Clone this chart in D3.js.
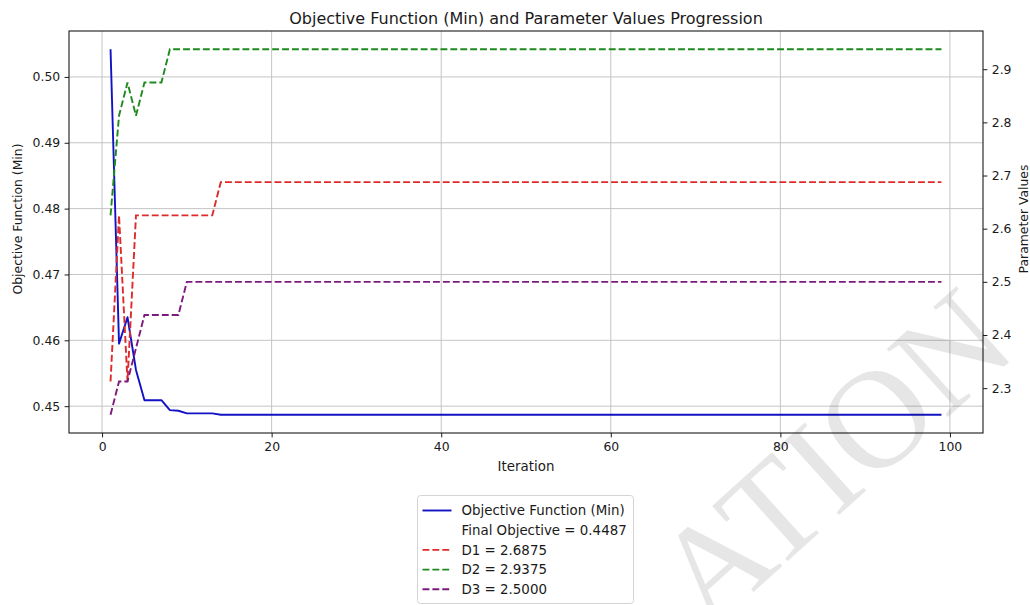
<!DOCTYPE html>
<html>
<head>
<meta charset="utf-8">
<script src="https://cdn.jsdelivr.net/npm/d3@7"></script>
<style>
  body { margin: 0; background: #fff; }
  text { font-family: "DejaVu Sans", sans-serif; fill: #1a1a1a; }
</style>
</head>
<body>
<svg id="chart" width="1030" height="605"></svg>
<script>
// Iteration index (x axis)
const iterations = d3.range(1, 100);

// Objective function value at each iteration (left axis)
const objective = [
  0.5042, 0.4595, 0.4635, 0.4555, 0.4509, 0.4509, 0.4509, 0.4494, 0.4493, 0.4489,
  0.4489, 0.4489, 0.4489, 0.4487, 0.4487, 0.4487, 0.4487, 0.4487, 0.4487, 0.4487,
  0.4487, 0.4487, 0.4487, 0.4487, 0.4487, 0.4487, 0.4487, 0.4487, 0.4487, 0.4487,
  0.4487, 0.4487, 0.4487, 0.4487, 0.4487, 0.4487, 0.4487, 0.4487, 0.4487, 0.4487,
  0.4487, 0.4487, 0.4487, 0.4487, 0.4487, 0.4487, 0.4487, 0.4487, 0.4487, 0.4487,
  0.4487, 0.4487, 0.4487, 0.4487, 0.4487, 0.4487, 0.4487, 0.4487, 0.4487, 0.4487,
  0.4487, 0.4487, 0.4487, 0.4487, 0.4487, 0.4487, 0.4487, 0.4487, 0.4487, 0.4487,
  0.4487, 0.4487, 0.4487, 0.4487, 0.4487, 0.4487, 0.4487, 0.4487, 0.4487, 0.4487,
  0.4487, 0.4487, 0.4487, 0.4487, 0.4487, 0.4487, 0.4487, 0.4487, 0.4487, 0.4487,
  0.4487, 0.4487, 0.4487, 0.4487, 0.4487, 0.4487, 0.4487, 0.4487, 0.4487
];

// Parameter values at each iteration (right axis)
const paramD1 = [
  2.3125, 2.625, 2.3125, 2.625, 2.625, 2.625, 2.625, 2.625, 2.625, 2.625,
  2.625, 2.625, 2.625, 2.6875, 2.6875, 2.6875, 2.6875, 2.6875, 2.6875, 2.6875,
  2.6875, 2.6875, 2.6875, 2.6875, 2.6875, 2.6875, 2.6875, 2.6875, 2.6875, 2.6875,
  2.6875, 2.6875, 2.6875, 2.6875, 2.6875, 2.6875, 2.6875, 2.6875, 2.6875, 2.6875,
  2.6875, 2.6875, 2.6875, 2.6875, 2.6875, 2.6875, 2.6875, 2.6875, 2.6875, 2.6875,
  2.6875, 2.6875, 2.6875, 2.6875, 2.6875, 2.6875, 2.6875, 2.6875, 2.6875, 2.6875,
  2.6875, 2.6875, 2.6875, 2.6875, 2.6875, 2.6875, 2.6875, 2.6875, 2.6875, 2.6875,
  2.6875, 2.6875, 2.6875, 2.6875, 2.6875, 2.6875, 2.6875, 2.6875, 2.6875, 2.6875,
  2.6875, 2.6875, 2.6875, 2.6875, 2.6875, 2.6875, 2.6875, 2.6875, 2.6875, 2.6875,
  2.6875, 2.6875, 2.6875, 2.6875, 2.6875, 2.6875, 2.6875, 2.6875, 2.6875
];
const paramD2 = [
  2.625, 2.8125, 2.875, 2.8125, 2.875, 2.875, 2.875, 2.9375, 2.9375, 2.9375,
  2.9375, 2.9375, 2.9375, 2.9375, 2.9375, 2.9375, 2.9375, 2.9375, 2.9375, 2.9375,
  2.9375, 2.9375, 2.9375, 2.9375, 2.9375, 2.9375, 2.9375, 2.9375, 2.9375, 2.9375,
  2.9375, 2.9375, 2.9375, 2.9375, 2.9375, 2.9375, 2.9375, 2.9375, 2.9375, 2.9375,
  2.9375, 2.9375, 2.9375, 2.9375, 2.9375, 2.9375, 2.9375, 2.9375, 2.9375, 2.9375,
  2.9375, 2.9375, 2.9375, 2.9375, 2.9375, 2.9375, 2.9375, 2.9375, 2.9375, 2.9375,
  2.9375, 2.9375, 2.9375, 2.9375, 2.9375, 2.9375, 2.9375, 2.9375, 2.9375, 2.9375,
  2.9375, 2.9375, 2.9375, 2.9375, 2.9375, 2.9375, 2.9375, 2.9375, 2.9375, 2.9375,
  2.9375, 2.9375, 2.9375, 2.9375, 2.9375, 2.9375, 2.9375, 2.9375, 2.9375, 2.9375,
  2.9375, 2.9375, 2.9375, 2.9375, 2.9375, 2.9375, 2.9375, 2.9375, 2.9375
];
const paramD3 = [
  2.25, 2.3125, 2.3125, 2.375, 2.4375, 2.4375, 2.4375, 2.4375, 2.4375, 2.5,
  2.5, 2.5, 2.5, 2.5, 2.5, 2.5, 2.5, 2.5, 2.5, 2.5,
  2.5, 2.5, 2.5, 2.5, 2.5, 2.5, 2.5, 2.5, 2.5, 2.5,
  2.5, 2.5, 2.5, 2.5, 2.5, 2.5, 2.5, 2.5, 2.5, 2.5,
  2.5, 2.5, 2.5, 2.5, 2.5, 2.5, 2.5, 2.5, 2.5, 2.5,
  2.5, 2.5, 2.5, 2.5, 2.5, 2.5, 2.5, 2.5, 2.5, 2.5,
  2.5, 2.5, 2.5, 2.5, 2.5, 2.5, 2.5, 2.5, 2.5, 2.5,
  2.5, 2.5, 2.5, 2.5, 2.5, 2.5, 2.5, 2.5, 2.5, 2.5,
  2.5, 2.5, 2.5, 2.5, 2.5, 2.5, 2.5, 2.5, 2.5, 2.5,
  2.5, 2.5, 2.5, 2.5, 2.5, 2.5, 2.5, 2.5, 2.5
];

// Tick values
const xTicks = [0, 20, 40, 60, 80, 100];
const leftTicks = [0.45, 0.46, 0.47, 0.48, 0.49, 0.50];
const rightTicks = [2.3, 2.4, 2.5, 2.6, 2.7, 2.8, 2.9];

// ---- layout ----
const svg = d3.select("#chart");
const plot = { left: 69, right: 983, top: 31, bottom: 433 };
const tickLen = 4.4, tickPad = 4.4;
const tickFont = "12.4px", labelFont = "13.4px";

const colors = { obj: "#1212c4", d1: "#de2a2a", d2: "#1e8a1e", d3: "#7d1a7d" };

// autoscale with 5% padding on each side
function padded(values) {
  const [lo, hi] = d3.extent(values);
  const p = (hi - lo) * 0.05;
  return [lo - p, hi + p];
}

const x = d3.scaleLinear().domain(padded(iterations)).range([plot.left, plot.right]);
const yL = d3.scaleLinear().domain(padded(objective)).range([plot.bottom, plot.top]);
const yR = d3.scaleLinear().domain(padded(paramD1.concat(paramD2, paramD3))).range([plot.bottom, plot.top]);

svg.append("rect").attr("width", 1030).attr("height", 605).attr("fill", "#fff");

// clip
svg.append("clipPath").attr("id", "plotClip").append("rect")
  .attr("x", plot.left).attr("y", plot.top)
  .attr("width", plot.right - plot.left).attr("height", plot.bottom - plot.top);

// grid
const grid = svg.append("g").attr("stroke", "#c4c4c4").attr("stroke-width", 1);
grid.selectAll("line.gx").data(xTicks).join("line")
  .attr("x1", d => x(d)).attr("x2", d => x(d))
  .attr("y1", plot.top).attr("y2", plot.bottom);
grid.selectAll("line.gy").data(leftTicks).join("line")
  .attr("x1", plot.left).attr("x2", plot.right)
  .attr("y1", d => yL(d)).attr("y2", d => yL(d));

// series
const lines = svg.append("g").attr("clip-path", "url(#plotClip)").attr("fill", "none");
const lineL = d3.line().x((d, i) => x(iterations[i])).y(d => yL(d));
const lineR = d3.line().x((d, i) => x(iterations[i])).y(d => yR(d));

lines.append("path").datum(objective).attr("d", lineL)
  .attr("stroke", colors.obj).attr("stroke-width", 1.9).attr("stroke-linejoin", "round");

const dash = "6.9,3";
[[paramD1, colors.d1], [paramD2, colors.d2], [paramD3, colors.d3]].forEach(([vals, c]) => {
  lines.append("path").datum(vals).attr("d", lineR)
    .attr("stroke", c).attr("stroke-width", 1.9).attr("stroke-dasharray", dash);
});

// axes
function styleAxis(g) {
  g.select(".domain").remove();
  g.selectAll(".tick line").attr("stroke", "#1a1a1a").attr("stroke-width", 1);
  g.selectAll(".tick text").style("font-size", tickFont).attr("fill", "#1a1a1a")
    .style("font-family", "'DejaVu Sans', sans-serif");
}
svg.append("g").attr("transform", `translate(0,${plot.bottom})`)
  .call(d3.axisBottom(x).tickValues(xTicks).tickFormat(d3.format("d"))
    .tickSize(tickLen).tickPadding(tickPad))
  .call(styleAxis);
svg.append("g").attr("transform", `translate(${plot.left},0)`)
  .call(d3.axisLeft(yL).tickValues(leftTicks).tickFormat(d3.format(".2f"))
    .tickSize(tickLen).tickPadding(tickPad))
  .call(styleAxis);
svg.append("g").attr("transform", `translate(${plot.right},0)`)
  .call(d3.axisRight(yR).tickValues(rightTicks).tickFormat(d3.format(".1f"))
    .tickSize(tickLen).tickPadding(tickPad))
  .call(styleAxis);

// spines
svg.append("rect")
  .attr("x", plot.left).attr("y", plot.top)
  .attr("width", plot.right - plot.left).attr("height", plot.bottom - plot.top)
  .attr("fill", "none").attr("stroke", "#1a1a1a").attr("stroke-width", 1.1);

// titles
const cx = (plot.left + plot.right) / 2;
svg.append("text").attr("x", cx).attr("y", 18).attr("dy", "0.35em")
  .attr("text-anchor", "middle").style("font-size", "16px")
  .text("Objective Function (Min) and Parameter Values Progression");
svg.append("text").attr("x", cx).attr("y", 466).attr("dy", "0.35em")
  .attr("text-anchor", "middle").style("font-size", labelFont).text("Iteration");
svg.append("text").attr("transform", "translate(18,219) rotate(-90)").attr("dy", "0.35em")
  .attr("text-anchor", "middle").style("font-size", "12.4px").text("Objective Function (Min)");
svg.append("text").attr("transform", "translate(1024,219) rotate(-90)").attr("dy", "0.35em")
  .attr("text-anchor", "middle").style("font-size", "12.4px").text("Parameter Values");

// legend
const last = a => a[a.length - 1].toFixed(4);
const legendItems = [
  { label: "Objective Function (Min)", color: colors.obj, dashed: false },
  { label: `Final Objective = ${last(objective)}`, color: null },
  { label: `D1 = ${last(paramD1)}`, color: colors.d1, dashed: true },
  { label: `D2 = ${last(paramD2)}`, color: colors.d2, dashed: true },
  { label: `D3 = ${last(paramD3)}`, color: colors.d3, dashed: true }
];
const lg = svg.append("g");
lg.append("rect").attr("x", 417.5).attr("y", 495.5).attr("width", 216).attr("height", 108)
  .attr("rx", 3).attr("fill", "#fff").attr("fill-opacity", 0.8)
  .attr("stroke", "#d4d4d4").attr("stroke-width", 1);
const rowY = i => 510.5 + i * 19.7;
legendItems.forEach((it, i) => {
  if (it.color) {
    lg.append("line").attr("x1", 422.5).attr("x2", 451.5)
      .attr("y1", rowY(i)).attr("y2", rowY(i))
      .attr("stroke", it.color).attr("stroke-width", 1.9)
      .attr("stroke-dasharray", it.dashed ? dash : null);
  }
  lg.append("text").attr("x", 461.5).attr("y", rowY(i)).attr("dy", "0.35em")
    .style("font-size", labelFont).text(it.label);
});

// watermark
svg.append("text")
  .attr("transform", "translate(708,633) rotate(-42)")
  .style("font-family", "'Liberation Serif', serif").style("font-size", "140px")
  .attr("fill", "#000").attr("fill-opacity", 0.11)
  .text("ATION");
</script>
</body>
</html>
